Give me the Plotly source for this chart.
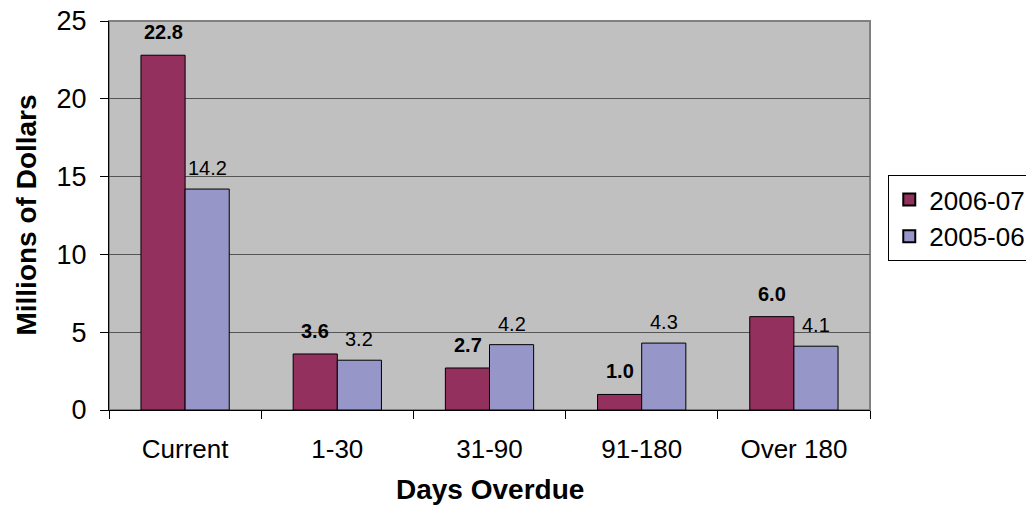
import plotly.graph_objects as go

categories = ["Current", "1-30", "31-90", "91-180", "Over 180"]
series_names = ["2006-07", "2005-06"]
values_2006_07 = [22.8, 3.6, 2.7, 1.0, 6.0]
values_2005_06 = [14.2, 3.2, 4.2, 4.3, 4.1]
y_ticks = [0, 5, 10, 15, 20, 25]

FONT = "Liberation Sans, Arial, sans-serif"
C1 = "#93305E"
C2 = "#9696C8"

fig = go.Figure()
fig.add_trace(go.Bar(x=categories, y=values_2006_07, name=series_names[0],
                     marker=dict(color=C1, line=dict(color="black", width=1))))
fig.add_trace(go.Bar(x=categories, y=values_2005_06, name=series_names[1],
                     marker=dict(color=C2, line=dict(color="black", width=1))))

# data labels
for cat, v in zip(categories, values_2006_07):
    fig.add_annotation(x=cat, y=v, xref="x", yref="y", text=f"<b>{v:.1f}</b>",
                       showarrow=False, yanchor="bottom", xshift=-22, yshift=10,
                       font=dict(family=FONT, size=20, color="black"))
for cat, v in zip(categories, values_2005_06):
    fig.add_annotation(x=cat, y=v, xref="x", yref="y", text=f"{v:.1f}",
                       showarrow=False, yanchor="bottom", xshift=22, yshift=8,
                       font=dict(family=FONT, size=20, color="black"))

# axis titles
fig.add_annotation(x=0.5, y=-0.204, xref="paper", yref="paper", text="<b>Days Overdue</b>",
                   showarrow=False, xanchor="center", yanchor="middle",
                   font=dict(family=FONT, size=28, color="black"))
fig.add_annotation(x=-0.109, y=0.5, xref="paper", yref="paper", text="<b>Millions of Dollars</b>",
                   showarrow=False, textangle=-90, xanchor="center", yanchor="middle",
                   font=dict(family=FONT, size=28, color="black"))

# plot area border
fig.add_shape(type="rect", xref="paper", yref="paper", x0=0, y0=0, x1=1, y1=1,
              line=dict(color="#808080", width=2), layer="below")

# the page body adds an 8px margin, so the figure is 8px smaller than the window
fig.update_layout(
    width=1026, height=508,
    margin=dict(l=101, r=164, t=13, b=106, autoexpand=False),
    paper_bgcolor="white", plot_bgcolor="#C0C0C0",
    barmode="group", bargap=0.42, bargroupgap=0,
    font=dict(family=FONT, size=26, color="black"),
    showlegend=True,
    legend=dict(x=1.024, y=0.604, xanchor="left", yanchor="top",
                bordercolor="black", borderwidth=1, bgcolor="white",
                font=dict(family=FONT, size=26, color="black"),
                itemsizing="constant"),
    xaxis=dict(showline=True, linecolor="black", linewidth=1, ticks="outside",
               tickson="boundaries", ticklen=8, tickcolor="black",
               showgrid=False, tickfont=dict(size=26), ticklabelstandoff=16),
    yaxis=dict(range=[0, 25], tickvals=y_ticks, showline=True, linecolor="black",
               linewidth=1, ticks="outside", ticklen=8, tickcolor="black",
               showgrid=True, gridcolor="#555555", gridwidth=1, zeroline=False,
               tickfont=dict(size=27), ticklabelstandoff=8,
               ticklabeloverflow="allow"),
)

fig.write_html("out.html")
